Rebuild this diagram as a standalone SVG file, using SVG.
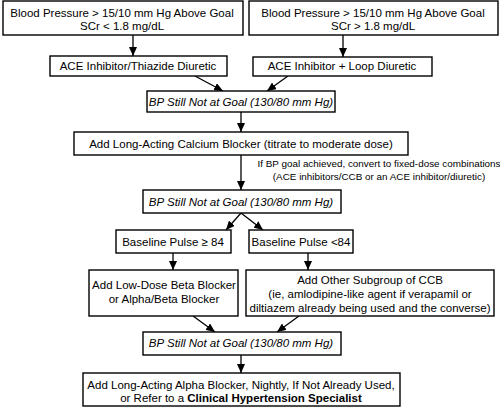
<svg xmlns="http://www.w3.org/2000/svg" width="500" height="409" viewBox="0 0 500 409">
<style>
.box{fill:#fff;stroke:#000;stroke-width:1.4}
text{font-family:"Liberation Sans",Arial,sans-serif;font-size:11.5px;fill:#000;text-anchor:middle}
.it{font-style:italic}
.note{font-size:9.9px}
.b{font-weight:bold}
.con line{stroke:#000;stroke-width:1.3;marker-end:url(#ah)}
</style>
<defs>
<marker id="ah" markerUnits="userSpaceOnUse" markerWidth="9" markerHeight="8" viewBox="0 0 9 8" refX="9" refY="4" orient="auto">
<path d="M0,0 L9,4 L0,8 z" fill="#000"/>
</marker>
</defs>
<rect width="500" height="409" fill="#fff"/>
<g class="con">
<line x1="133" y1="35" x2="133" y2="56"/>
<line x1="343" y1="35" x2="343" y2="57"/>
<line x1="195" y1="76" x2="223" y2="91"/>
<line x1="288" y1="76" x2="267" y2="91"/>
<line x1="241" y1="112" x2="241" y2="132"/>
<line x1="241" y1="155" x2="241" y2="190"/>
<line x1="241" y1="213" x2="226" y2="230"/>
<line x1="241" y1="213" x2="263" y2="230"/>
<line x1="173" y1="253" x2="173" y2="270"/>
<line x1="308" y1="253" x2="308" y2="270"/>
<line x1="193" y1="316" x2="215" y2="332"/>
<line x1="299" y1="316" x2="277" y2="332"/>
<line x1="241" y1="355" x2="241" y2="373"/>
</g>
<g id="n1"><rect class="box" x="3" y="1" width="240" height="34"/>
<text x="122" y="17">Blood Pressure &gt; 15/10 mm Hg Above Goal</text>
<text x="122" y="29.5">SCr &lt; 1.8 mg/dL</text></g>
<g id="n2"><rect class="box" x="249" y="1" width="249" height="34"/>
<text x="373" y="17">Blood Pressure &gt; 15/10 mm Hg Above Goal</text>
<text x="373" y="29.5">SCr &gt; 1.8 mg/dL</text></g>
<g id="n3"><rect class="box" x="50" y="56" width="177" height="20"/>
<text x="138" y="69.5">ACE Inhibitor/Thiazide Diuretic</text></g>
<g id="n4"><rect class="box" x="253" y="57" width="179" height="19"/>
<text x="342" y="70">ACE Inhibitor + Loop Diuretic</text></g>
<g id="n5"><rect class="box" x="147" y="91" width="188" height="21"/>
<text class="it" x="241" y="105.5">BP Still Not at Goal (130/80 mm Hg)</text></g>
<g id="n6"><rect class="box" x="74" y="132" width="334" height="23"/>
<text x="241" y="148">Add Long-Acting Calcium Blocker (titrate to moderate dose)</text></g>
<g id="note"><text class="note" x="379" y="166.5">If BP goal achieved, convert to fixed-dose combinations</text>
<text class="note" x="379" y="179.5">(ACE inhibitors/CCB or an ACE inhibitor/diuretic)</text></g>
<g id="n7"><rect class="box" x="143" y="190" width="198" height="23"/>
<text class="it" x="241" y="206">BP Still Not at Goal (130/80 mm Hg)</text></g>
<g id="n8"><rect class="box" x="116" y="230" width="115" height="23"/>
<text x="173" y="246">Baseline Pulse ≥ 84</text></g>
<g id="n9"><rect class="box" x="249" y="230" width="104" height="23"/>
<text x="301" y="246">Baseline Pulse &lt;84</text></g>
<g id="n10"><rect class="box" x="89" y="270" width="149" height="46"/>
<text x="164" y="289">Add Low-Dose Beta Blocker</text>
<text x="164" y="303">or Alpha/Beta Blocker</text></g>
<g id="n11"><rect class="box" x="246" y="270" width="248" height="46"/>
<text x="370" y="284">Add Other Subgroup of CCB</text>
<text x="370" y="298">(ie, amlodipine-like agent if verapamil or</text>
<text x="370" y="311.5">diltiazem already being used and the converse)</text></g>
<g id="n12"><rect class="box" x="143" y="332" width="198" height="23"/>
<text class="it" x="241" y="347">BP Still Not at Goal (130/80 mm Hg)</text></g>
<g id="n13"><rect class="box" x="83" y="373" width="317" height="33"/>
<text x="241" y="389">Add Long-Acting Alpha Blocker, Nightly, If Not Already Used,</text>
<text x="241" y="402">or Refer to a <tspan class="b">Clinical Hypertension Specialist</tspan></text></g>
</svg>
